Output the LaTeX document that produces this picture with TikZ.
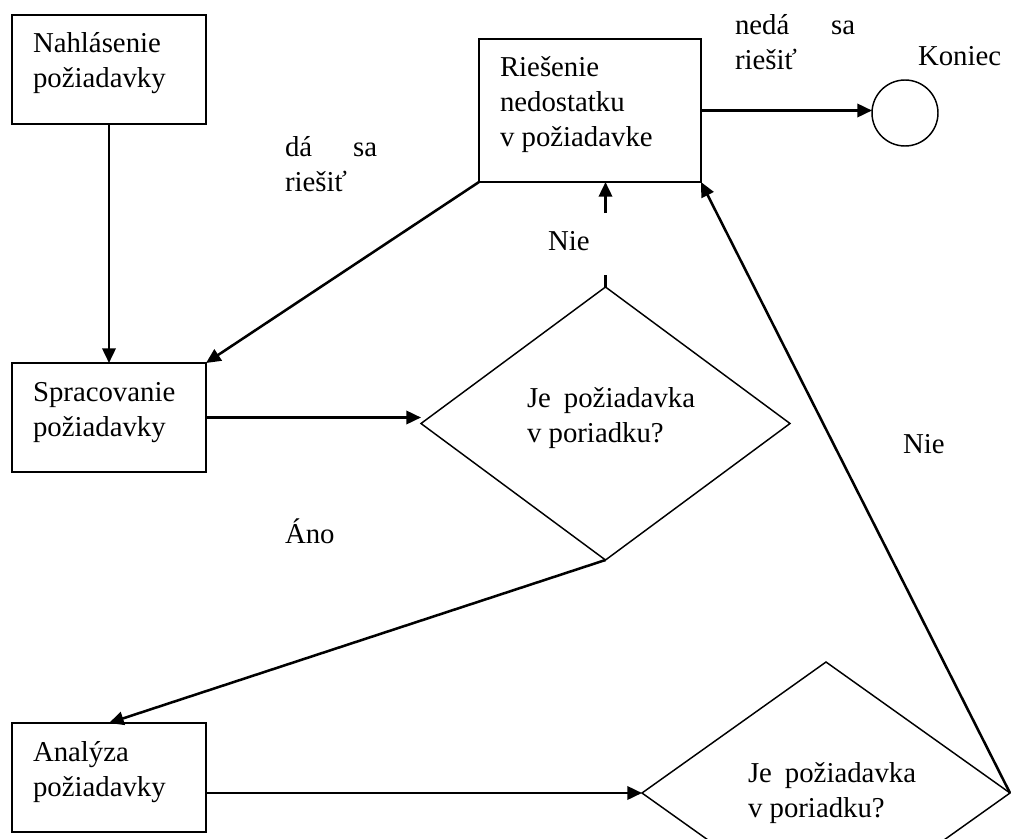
\documentclass[tikz,border=0pt]{standalone}
\usepackage{fontspec}
\setmainfont{Liberation Serif}
\usetikzlibrary{arrows.meta,shapes.geometric,calc}
\begin{document}
\begin{tikzpicture}[x=0.75pt,y=-0.75pt,
  every node/.style={inner sep=0pt, outer sep=0pt},
  txtfont/.style={font=\fontsize{21.6}{26}\selectfont},
  stepbox/.style={draw, line width=1.6pt, rectangle, minimum width=145.5pt, minimum height=81.75pt, anchor=north west},
  decision/.style={draw, line width=1.1pt, diamond, minimum width=276.75pt, minimum height=204.75pt},
  endpoint/.style={draw, line width=1.1pt, circle, minimum size=49.5pt},
  lines/.style={txtfont, align=left, anchor=north west},
  word/.style={txtfont, anchor=base west},
  flow/.style={line width=1.9pt, -{Triangle[length=11pt,width=10pt]}},
  plain/.style={line width=1.9pt},
]
\useasboundingbox (0,0) rectangle (1011,839);
\clip (0,0) rectangle (1011,839);

% process boxes
\node[stepbox] (nahl) at (12,15) {};
\node[stepbox] (spra) at (12,363) {};
\node[stepbox] (anal) at (12,723) {};
\node[stepbox, minimum width=166.5pt, minimum height=107.25pt] (ries) at (479,39) {};

% end point and decisions
\node[endpoint] (kon) at (905,113) {};
\node[decision] (d1) at (605.5,423.5) {};
\node[decision, minimum width=276pt, minimum height=196.5pt] (d2) at (826,793) {};

% texts inside the shapes
\node[lines] (tnahl) at ($(nahl.north west)+(21,13.7)$) {\strut Nahlásenie\\požiadavky};
\node[lines] (tspra) at ($(spra.north west)+(21,14.7)$) {\strut Spracovanie\\požiadavky};
\node[lines] (tanal) at ($(anal.north west)+(21,14.7)$) {\strut Analýza\\požiadavky};
\node[lines] (tries) at ($(ries.north west)+(21,13.7)$) {\strut Riešenie\\nedostatku\\v požiadavke};
\node[lines] (td1) at ($(d1.center)+(-78.5,-39.8)$) {\strut Je\hspace{0.45em}požiadavka\\v poriadku?};
\node[lines] (td2) at ($(d2.center)+(-78,-34.3)$) {\strut Je\hspace{0.45em}požiadavka\\v poriadku?};

% connector labels
\node[lines] (lda) at (285,132.7) {\strut dá\hspace{1.42em}sa\\riešiť};
\node[lines] (lneda) at (735,10.7) {\strut nedá\hspace{1.45em}sa\\riešiť};
\node[word] (lkon) at (918,65) {Koniec};
\node[word] (lnie1) at (548,250) {Nie};
\node[word] (lnie2) at (903,453) {Nie};
\node[word] (lano) at (285,543) {Áno};

% connectors
\draw[flow] (nahl.south) -- (spra.north);
\draw[flow] (spra.east) -- (spra.east -| d1.west);
\draw[flow] (ries.south west) -- (spra.north east);
\draw[flow] (ries.east) -- (ries.east -| kon.west);
\coordinate (gapA) at ($(d1.north)+(0,-12)$);
\coordinate (gapB) at ($(d1.north)+(0,-74)$);
\draw[plain] (d1.north) -- (gapA);
\draw[flow] (gapB) -- (gapB |- ries.south);
\draw[flow] (d1.south) -- (anal.north);
\draw[flow] (anal.east |- d2.west) -- (d2.west);
\draw[flow] (d2.east) -- (ries.south east);
\end{tikzpicture}
\end{document}
